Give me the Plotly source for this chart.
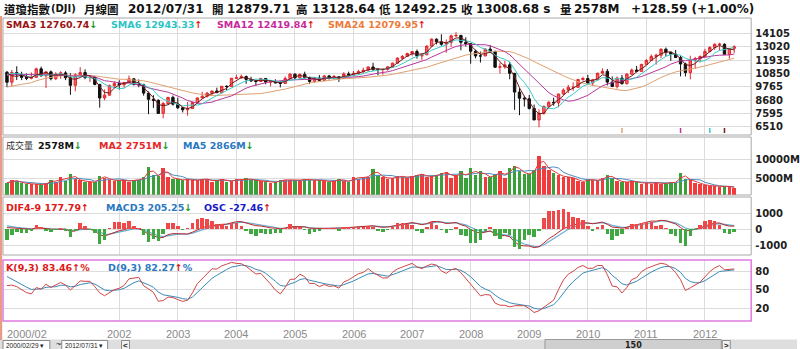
import plotly.graph_objects as go
import pandas as pd
import numpy as np

# ---------------- data (monthly, 2000/02 .. 2012/07) ----------------
opens = [10940, 10128, 10922, 10734, 10522, 10448, 10522, 11215, 10651, 10971, 10415,
         10787, 10887, 10495, 9879, 10735, 10912, 10502, 10523, 9950, 8848, 9075, 9852,
         10022, 9920, 10106, 10404, 9946, 9925, 9243, 8737, 8664, 7592, 8397, 8896,
         8342, 8054, 7891, 7992, 8480, 8850, 8985, 9234, 9416, 9275, 9801, 9782,
         10454, 10488, 10584, 10358, 10226, 10188, 10435, 10140, 10174, 10080, 10027, 10428,
         10783, 10490, 10766, 10504, 10193, 10467, 10275, 10641, 10482, 10569, 10440, 10806,
         10718, 10865, 10993, 11109, 11367, 11168, 11150, 11186, 11381, 11679, 12081, 12222,
         12463, 12622, 12269, 12354, 13063, 13628, 13409, 13212, 13358, 13896, 13930, 13372,
         13265, 12650, 12266, 12263, 12820, 12638, 11350, 11378, 11544, 10851, 9325, 8829,
         8776, 8001, 7063, 7609, 8168, 8500, 8447, 9172, 9496, 9712, 9713, 10345,
         10428, 10067, 10325, 10857, 11009, 10137, 9774, 10466, 10015, 10788, 11118, 11006,
         11578, 11892, 12226, 12320, 12811, 12570, 12414, 12143, 11614, 10913, 11955, 12046,
         12218, 12633, 12952, 13212, 13214, 12393, 12879.71]
highs = [11041, 11119, 11425, 10980, 10839, 10923, 11310, 11401, 10977, 11082, 10940,
         11020, 11022, 10858, 10860, 11350, 11175, 10692, 10610, 9995, 9545, 9944, 10198,
         10290, 10161, 10673, 10466, 10354, 10000, 9380, 9077, 8736, 8538, 8931, 9043,
         8870, 8109, 8522, 8530, 8892, 9350, 9340, 9450, 9686, 9823, 9872, 10454,
         10754, 10753, 10678, 10570, 10330, 10480, 10440, 10240, 10370, 10240, 10600, 10868,
         10855, 10842, 10985, 10580, 10550, 10715, 10720, 10725, 10730, 10600, 10940, 10985,
         11049, 11137, 11318, 11420, 11710, 11257, 11230, 11430, 11719, 12163, 12342, 12529,
         12670, 12795, 12500, 13120, 13692, 13692, 14022, 13600, 14000, 14198, 13980, 13780,
         13280, 12767, 12624, 12891, 13136, 12680, 11700, 11867, 11790, 10882, 9654, 9026,
         9088, 8315, 7925, 8221, 8588, 8877, 9190, 9630, 9918, 10120, 10406, 10580,
         10729, 10403, 10905, 11258, 11206, 10595, 10590, 10720, 10860, 11245, 11452, 11625,
         12020, 12391, 12450, 12876, 12950, 12570, 12753, 12285, 11717, 12285, 12188, 12311,
         12842, 13056, 13290, 13338, 13280, 12898, 13128.64]
lows = [9731, 9796, 10306, 10300, 10298, 10365, 10520, 10580, 9654, 10276, 10300,
        10400, 10300, 9106, 9389, 10600, 10375, 10140, 9880, 8062, 8660, 9040, 9651,
        9529, 9680, 10080, 9863, 9723, 9038, 7532, 8043, 7592, 7197, 8300, 8232,
        7945, 7674, 7416, 7950, 8395, 8850, 8880, 9035, 9250, 9270, 9480, 9782,
        10400, 10400, 10000, 10150, 9850, 10150, 9955, 9800, 10030, 9708, 10020, 10400,
        10368, 10400, 10400, 10000, 10100, 10250, 10200, 10350, 10320, 10156, 10400, 10700,
        10650, 10750, 10880, 11000, 11050, 10699, 10740, 11070, 11300, 11670, 11990, 12200,
        12300, 12050, 11940, 12350, 13000, 13200, 13100, 12518, 13000, 13800, 12724, 13020,
        11634, 12069, 11731, 12250, 12490, 11287, 10827, 11220, 10365, 7882, 7449, 8149,
        7909, 7063, 6470, 7490, 8100, 8220, 8087, 9100, 9250, 9430, 9680, 10250,
        10030, 9835, 10300, 10850, 9870, 9758, 9614, 9936, 9940, 10712, 10930, 11000,
        11570, 11860, 11555, 12093, 12240, 11862, 12086, 10604, 10597, 10362, 11231, 11735,
        12217, 12553, 12756, 12710, 12391, 12036, 12492.25]
closes = [10128, 10922, 10734, 10522, 10448, 10522, 11215, 10651, 10971, 10415, 10787,
          10887, 10495, 9879, 10735, 10912, 10502, 10523, 9950, 8848, 9075, 9852, 10022,
          9920, 10106, 10404, 9946, 9925, 9243, 8737, 8664, 7592, 8397, 8896, 8342,
          8054, 7891, 7992, 8480, 8850, 8985, 9234, 9416, 9275, 9801, 9782, 10454,
          10488, 10584, 10358, 10226, 10188, 10435, 10140, 10174, 10080, 10027, 10428, 10783,
          10490, 10766, 10504, 10193, 10467, 10275, 10641, 10482, 10569, 10440, 10806, 10718,
          10865, 10993, 11109, 11367, 11168, 11150, 11186, 11381, 11679, 12081, 12222, 12463,
          12622, 12269, 12354, 13063, 13628, 13409, 13212, 13358, 13896, 13930, 13372, 13265,
          12650, 12266, 12263, 12820, 12638, 11350, 11378, 11544, 10851, 9325, 8829, 8776,
          8001, 7063, 7609, 8168, 8500, 8447, 9172, 9496, 9712, 9713, 10345, 10428,
          10067, 10325, 10857, 11009, 10137, 9774, 10466, 10015, 10788, 11118, 11006, 11578,
          11892, 12226, 12320, 12811, 12570, 12414, 12143, 11614, 10913, 11955, 12046, 12218,
          12633, 12952, 13212, 13214, 12393, 12880, 13008.68]
volumes = [3900, 4600, 4300, 3800, 3700, 3600, 3500, 3400, 3800, 4700, 4000,
           5400, 4300, 6200, 4800, 4500, 4200, 4100, 4000, 5700, 5200, 4700, 4400,
           4600, 4500, 4200, 4700, 4600, 5400, 8000, 5800, 5600, 7700, 5500, 4900,
           4800, 4500, 4900, 4500, 4600, 4900, 4800, 4200, 4700, 4800, 4200, 4400,
           4900, 4500, 5100, 4600, 4500, 4300, 4300, 3900, 4100, 4600, 4700, 4600,
           4600, 4600, 4800, 4700, 4500, 4700, 4300, 4200, 4300, 4900, 4400, 4100,
           5400, 5000, 5500, 5400, 7400, 5800, 5300, 5000, 5200, 5600, 5500, 5200,
           5600, 6000, 6200, 5300, 5600, 5900, 6400, 6700, 5200, 5800, 6800, 5100,
           7700, 5900, 6900, 5500, 5300, 6100, 7000, 5200, 7800, 8300, 6900, 6200,
           6100, 7300, 10700, 8100, 7300, 6500, 5800, 5400, 5300, 5100, 4300, 4200,
           4800, 4600, 4500, 5100, 5800, 5200, 4400, 4100, 4100, 4300, 4100, 3700,
           3900, 3700, 4100, 3600, 3800, 4100, 3900, 6400, 4900, 4500, 3900, 3500,
           3300, 3100, 3000, 2800, 3028, 2924, 2578]

# months before the visible range (1998/03 .. 2000/01), used only to warm up indicators
pre_closes = [8800, 9063, 8900, 8952, 8883, 7539, 7843, 8592, 9117, 9181,
              9359, 9307, 9786, 10789, 10560, 10971, 10655, 10829, 10337, 10730, 10878, 11497,
              10940]
pre_highs = [8930, 9180, 9211, 9070, 9370, 8790, 8170, 8700, 9380, 9380,
             9674, 9552, 10006, 10878, 11107, 11000, 11252, 11100, 11080, 10800, 11090, 11569,
             11750]
pre_lows = [8500, 8790, 8850, 8630, 8870, 7500, 7400, 7467, 8590, 8630,
            9063, 9133, 9270, 9832, 10400, 10400, 10600, 10600, 10200, 9885, 10580, 10900,
            10650]

year_labels = ["2002", "2003", "2004", "2005", "2006", "2007", "2008", "2009", "2010", "2011", "2012"]
first_label = "2000/02"
price_ticks = [6510, 7595, 8680, 9765, 10850, 11935, 13020, 14105]
vol_ticks = [5000, 10000]
vol_ticktext = ["5000M", "10000M"]
macd_ticks = [-1000, 0, 1000]
kd_ticks = [20, 50, 80]
sma_periods = [3, 6, 12, 24]

# ---------------- indicators ----------------
n = len(closes)
idx = np.arange(n)
P = len(pre_closes)
fc = pd.Series(pre_closes + closes, dtype=float)
fh = pd.Series(pre_highs + highs, dtype=float)
fl = pd.Series(pre_lows + lows, dtype=float)

smas = {p: fc.rolling(p, min_periods=1).mean().iloc[P:].to_numpy() for p in sma_periods}

ema = lambda s, k: s.ewm(span=k, adjust=False).mean()
di = (fh + fl + 2 * fc) / 4
dif_full = ema(di, 4) - ema(di, 9)
macd_full = dif_full.ewm(span=3, adjust=False).mean()
dif = dif_full.iloc[P:].to_numpy()
macd = macd_full.iloc[P:].to_numpy()
osc = dif - macd

ll = fl.rolling(9, min_periods=1).min()
hh = fh.rolling(9, min_periods=1).max()
rsv = ((fc - ll) / (hh - ll) * 100).to_numpy()
K, D = [], []
k = d = 50.0
for r in rsv:
    k = 2 / 3 * k + r / 3
    d = 2 / 3 * d + k / 3
    K.append(k)
    D.append(d)
K = np.array(K[P:])
D = np.array(D[P:])

vs = pd.Series(volumes, dtype=float)
vma2 = vs.rolling(2, min_periods=1).mean().to_numpy()
vma5 = vs.rolling(5, min_periods=1).mean().to_numpy()

up = np.array(closes) >= np.array(opens)
vol_colors = ["#f03c3c" if u else "#3aa03a" for u in up]
osc_colors = ["#f04848" if v >= 0 else "#40a840" for v in osc]

# ---------------- figure ----------------
W, H = 800, 349
def py(p):
    return 1 - p / H

X0, X1 = 3, 754
pxm = (737 - 7) / (n - 1)
xr = [(X0 - 7) / pxm, (X1 - 7) / pxm]
jan_idx = [23 + 12 * i for i in range(len(year_labels))]

fig = go.Figure()

fig.add_trace(go.Candlestick(
    x=idx, open=opens, high=highs, low=lows, close=closes,
    increasing=dict(line=dict(color="#e3262c", width=1), fillcolor="#f56464"),
    decreasing=dict(line=dict(color="#101010", width=1), fillcolor="#101010"),
    whiskerwidth=0, xaxis="x", yaxis="y", hoverinfo="skip", showlegend=False))

sma_colors = {3: "#6e1c1c", 6: "#3cc8c8", 12: "#b8389c", 24: "#dfa070"}
for p in [24, 12, 6, 3]:
    fig.add_trace(go.Scatter(x=idx, y=smas[p], mode="lines",
                             line=dict(color=sma_colors[p], width=1),
                             xaxis="x", yaxis="y", showlegend=False, hoverinfo="skip"))

# window start markers for SMAs
for p in sma_periods:
    fig.add_shape(type="line", xref="x", yref="paper", x0=n - p, x1=n - p,
                  y0=py(133), y1=py(128), line=dict(color=sma_colors[p], width=1.5))

fig.add_trace(go.Bar(x=idx, y=volumes, marker=dict(color=vol_colors, line=dict(width=0)),
                     width=0.72, xaxis="x2", yaxis="y2", showlegend=False, hoverinfo="skip"))
fig.add_trace(go.Scatter(x=idx, y=vma5, mode="lines", line=dict(color="#4a8cc4", width=1),
                         xaxis="x2", yaxis="y2", showlegend=False, hoverinfo="skip"))
fig.add_trace(go.Scatter(x=idx, y=vma2, mode="lines", line=dict(color="#e03a3a", width=1),
                         xaxis="x2", yaxis="y2", showlegend=False, hoverinfo="skip"))

fig.add_trace(go.Bar(x=idx, y=osc, marker=dict(color=osc_colors, line=dict(width=0)),
                     width=0.72, xaxis="x3", yaxis="y5", showlegend=False, hoverinfo="skip"))
fig.add_trace(go.Scatter(x=idx, y=macd, mode="lines", line=dict(color="#6aaed6", width=1.2),
                         xaxis="x3", yaxis="y3", showlegend=False, hoverinfo="skip"))
fig.add_trace(go.Scatter(x=idx, y=dif, mode="lines", line=dict(color="#b82828", width=1),
                         xaxis="x3", yaxis="y3", showlegend=False, hoverinfo="skip"))

fig.add_trace(go.Scatter(x=idx, y=D, mode="lines", line=dict(color="#3a8ab8", width=1),
                         xaxis="x4", yaxis="y4", showlegend=False, hoverinfo="skip"))
fig.add_trace(go.Scatter(x=idx, y=K, mode="lines", line=dict(color="#d04646", width=1),
                         xaxis="x4", yaxis="y4", showlegend=False, hoverinfo="skip"))

GRID = "#dcdcdc"
xcommon = dict(domain=[X0 / W, X1 / W], range=xr, tickvals=jan_idx, showgrid=True,
               gridcolor=GRID, gridwidth=1, showticklabels=False, ticks="",
               zeroline=False, showline=False, fixedrange=True)
tickfont = dict(family="DejaVu Sans", size=10, color="#202020", weight="bold")
ycommon = dict(side="right", showgrid=True, gridcolor=GRID, zeroline=False, ticks="",
               showline=False, tickfont=tickfont, ticklabelstandoff=3, fixedrange=True)

# price axis
p_top, p_bot = 18, 135
ppx = 1085 / 13.35
pr = [14105 - (p_bot - 33.3) * ppx, 14105 + (33.3 - p_top) * ppx]
# volume axis
v_top, v_bot = 137, 195
vpx = 5000 / 19.5
vr = [10000 - (v_bot - 159) * vpx, 10000 + (159 - v_top) * vpx]
# macd axis
m_top, m_bot = 198, 255
mpx = 1000 / 16.0
mr = [-(m_bot - 229) * mpx, (229 - m_top) * mpx]
osc_k = 6.0
# kd axis
k_top, k_bot = 260, 321
kpx = 60 / 37.0
kr = [20 - (k_bot - 308) * kpx, 80 + (271 - k_top) * kpx]

fig.update_layout(
    width=W, height=H, margin=dict(l=0, r=0, t=0, b=0),
    paper_bgcolor="white", plot_bgcolor="white", showlegend=False,
    bargap=0, dragmode=False,
    xaxis=dict(**xcommon, anchor="y", rangeslider=dict(visible=False)),
    xaxis2=dict(**xcommon, anchor="y2", matches="x"),
    xaxis3=dict(**xcommon, anchor="y3", matches="x"),
    xaxis4=dict(**xcommon, anchor="y4", matches="x"),
    yaxis=dict(**ycommon, domain=[py(p_bot), py(p_top)], range=pr, tickvals=price_ticks,
               ticktext=[str(t) for t in price_ticks], anchor="x"),
    yaxis2=dict(**ycommon, domain=[py(v_bot), py(v_top)], range=vr, tickvals=vol_ticks,
                ticktext=vol_ticktext, anchor="x2"),
    yaxis3=dict(**ycommon, domain=[py(m_bot), py(m_top)], range=mr, tickvals=macd_ticks,
                ticktext=[str(t) for t in macd_ticks], anchor="x3"),
    yaxis4=dict(**ycommon, domain=[py(k_bot), py(k_top)], range=kr, tickvals=kd_ticks,
                ticktext=[str(t) for t in kd_ticks], anchor="x4"),
    yaxis5=dict(overlaying="y3", range=[mr[0] / osc_k, mr[1] / osc_k], visible=False,
                showgrid=False, fixedrange=True),
)

# panel borders
def rect(x0, y0, x1, y1, color, w=1, fill=None):
    fig.add_shape(type="rect", xref="paper", yref="paper", x0=x0 / W, x1=x1 / W,
                  y0=py(y1), y1=py(y0), line=dict(color=color, width=w),
                  fillcolor=fill, layer="above" if fill is None else "below")

rect(X0, p_top, X1, p_bot, "#a8a8a8")
rect(X0, v_top, X1, v_bot, "#a8a8a8")
rect(X0, m_top - 1, X1, m_bot, "#a8a8a8")
rect(X0, k_top, X1, k_bot, "#e07ae0", 1.5)
# left salmon frame
fig.add_shape(type="rect", xref="paper", yref="paper", x0=0, x1=2.2 / W, y0=py(340), y1=py(16),
              line=dict(width=0), fillcolor="#e89c86")

# ---------------- texts ----------------
CJK = "Noto Sans CJK TC"
NUM = "DejaVu Sans"

def txt(x, y, s, size=12, color="#111", family=NUM, weight="normal", anchor="left"):
    fig.add_annotation(x=x / W, y=py(y), xref="paper", yref="paper", text=s,
                       showarrow=False, xanchor=anchor, yanchor="middle",
                       font=dict(family=family, size=size, color=color, weight=weight))

# title row
ty = 9
txt(2, ty, "道瓊指數", 11.5, "#111", CJK, "bold")
txt(49, ty, "(DJI)", 10, "#111", NUM, "bold")
txt(82, ty, "月線圖", 11.5, "#111", CJK, "bold")
txt(126, ty, "2012/07/31", 12, "#111", NUM, "bold")
txt(211, ty, "開", 11.5, "#111", CJK, "bold")
txt(226, ty, "12879.71", 12, "#111", NUM, "bold")
txt(295, ty, "高", 11.5, "#111", CJK, "bold")
txt(311, ty, "13128.64", 12, "#111", NUM, "bold")
txt(378, ty, "低", 11.5, "#111", CJK, "bold")
txt(393, ty, "12492.25", 12, "#111", NUM, "bold")
txt(461, ty, "收", 11.5, "#111", CJK, "bold")
txt(476, ty, "13008.68 s", 12, "#111", NUM, "bold")
txt(560, ty, "量", 11.5, "#111", CJK, "bold")
txt(574, ty, "2578M", 12, "#111", NUM, "bold")
txt(631, ty, "+128.59 (+1.00%)", 12, "#111", NUM, "bold")

DN = "<span style='color:#1c9a1c'>↓</span>"
UPA = "<span style='color:#e01818'>↑</span>"
ly = 25
txt(4, ly, "SMA3 12760.74" + DN, 9.5, "#9a1414", NUM, "bold")
txt(109, ly, "SMA6 12943.33" + UPA, 9.5, "#2cc4c4", NUM, "bold")
txt(216, ly, "SMA12 12419.84" + UPA, 9.5, "#c8289c", NUM, "bold")
txt(327, ly, "SMA24 12079.95" + UPA, 9.5, "#ee7a3a", NUM, "bold")

vy = 145
txt(4, vy, "成交量", 9, "#333", CJK, "normal")
txt(36, vy, "2578M" + DN, 9.5, "#111", NUM, "bold")
txt(97, vy, "MA2 2751M" + DN, 9.5, "#e62828", NUM, "bold")
txt(182, vy, "MA5 2866M" + DN, 9.5, "#2a78c0", NUM, "bold")

my = 207
txt(4, my, "DIF4-9 177.79" + UPA, 9.5, "#e01818", NUM, "bold")
txt(104, my, "MACD3 205.25" + DN, 9.5, "#2a78c0", NUM, "bold")
txt(203, my, "OSC -27.46" + UPA, 9.5, "#1818c8", NUM, "bold")

ky = 267
txt(4, ky, "K(9,3) 83.46" + UPA + "%", 9.5, "#e01818", NUM, "bold")
txt(106, ky, "D(9,3) 82.27" + UPA + "%", 9.5, "#2a78c0", NUM, "bold")

# x labels
xl_y = 334
txt(5, xl_y, first_label, 11, "#8a8a8a", "Liberation Sans")
for lab, i in zip(year_labels, jan_idx):
    fig.add_annotation(x=i, y=py(xl_y), xref="x4", yref="paper", text=lab, showarrow=False,
                       xanchor="center", yanchor="middle",
                       font=dict(family="Liberation Sans", size=11, color="#8a8a8a"))

# bottom toolbar
fig.add_shape(type="rect", xref="paper", yref="paper", x0=0, x1=1, y0=0, y1=py(339.5),
              line=dict(width=0), fillcolor="#dedede", layer="below")
rect(3, 340.5, 50, 349.5, "#8a8a8a", 1, "white")
rect(62, 340.5, 108, 349.5, "#8a8a8a", 1, "white")
rect(122, 340.5, 130, 349.5, "#8a8a8a", 1, "#f2f2f2")
rect(547, 339.5, 724, 349.5, "#9a9a9a", 1, "#cfcfcf")
rect(725, 340.5, 733, 349.5, "#8a8a8a", 1, "#f2f2f2")
txt(4, 345, "2000/02/29 ▾", 6.5, "#222", "Liberation Sans")
txt(54, 344, "~", 9, "#222", "Liberation Sans")
txt(63, 345, "2012/07/31 ▾", 6.5, "#222", "Liberation Sans")
txt(126, 345, "<", 8, "#222", "Liberation Sans", "bold", "center")
txt(729, 345, ">", 8, "#222", "Liberation Sans", "bold", "center")
txt(636, 345, "150", 8, "#222", NUM, "bold", "center")

fig.write_html("out.html")
